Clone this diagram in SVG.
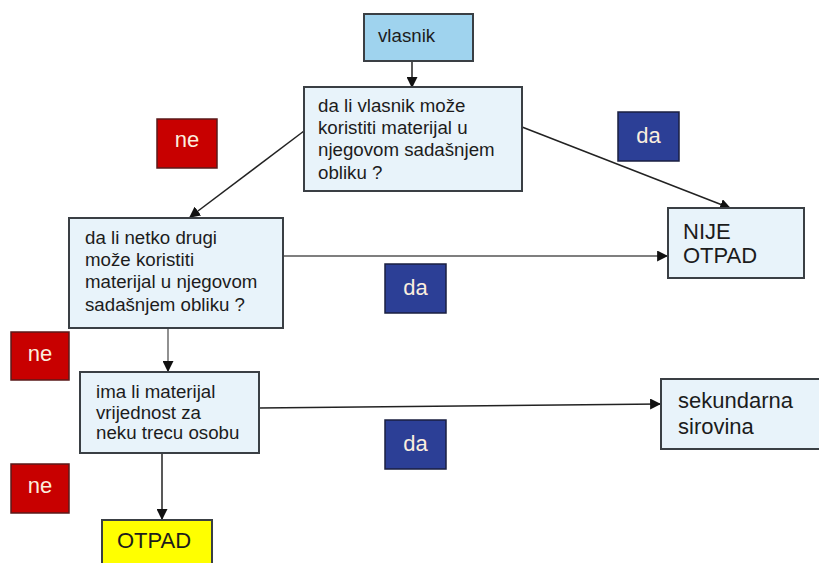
<svg xmlns="http://www.w3.org/2000/svg" width="819" height="563" viewBox="0 0 819 563">
<style>
.box{fill:#e8f3fa;stroke:#3a3f44;stroke-width:2}
.t{font-family:"Liberation Sans",Arial,sans-serif;font-size:18.7px;fill:#1c1c1c}
.big{font-size:22px}
.ne{fill:#c80000;stroke:#5a1a1a;stroke-width:1.5}
.da{fill:#2c3f96;stroke:#1a1f40;stroke-width:1.5}
.lab{font-family:"Liberation Sans",Arial,sans-serif;font-size:22px;fill:#fbeede;text-anchor:middle}
.c{stroke:#222;stroke-width:1.5;fill:none}
.cl{stroke:#555;stroke-width:1.3;fill:none}
</style>
<defs>
<marker id="ah" viewBox="0 0 10 10" refX="9" refY="5" markerWidth="11" markerHeight="11" markerUnits="userSpaceOnUse" orient="auto">
<path d="M0,0 L10,5 L0,10 z" fill="#111"/>
</marker>
</defs>
<rect width="819" height="563" fill="#fff"/>
<g id="connectors">
<line class="c" x1="412" y1="61" x2="412" y2="87" marker-end="url(#ah)"/>
<line class="c" x1="304" y1="131" x2="190" y2="217" marker-end="url(#ah)"/>
<line class="c" x1="522" y1="127" x2="730" y2="208" marker-end="url(#ah)"/>
<line class="cl" x1="283" y1="256" x2="667" y2="256" marker-end="url(#ah)"/>
<line class="cl" x1="168" y1="328" x2="168" y2="371" marker-end="url(#ah)"/>
<line class="c" x1="162" y1="453" x2="162" y2="519" marker-end="url(#ah)"/>
<line class="c" x1="259" y1="408" x2="660" y2="404" marker-end="url(#ah)"/>
</g>
<g id="vlasnik">
<rect x="364" y="14" width="109" height="47" fill="#9fd3ee" stroke="#3a3f44" stroke-width="2"/>
<text class="t" x="378" y="42">vlasnik</text>
</g>
<g id="q1">
<rect class="box" x="304" y="87" width="218" height="104"/>
<text class="t" x="318" y="112">da li vlasnik može</text>
<text class="t" x="318" y="134">koristiti materijal u</text>
<text class="t" x="318" y="156">njegovom sadašnjem</text>
<text class="t" x="318" y="179">obliku ?</text>
</g>
<g id="q2">
<rect class="box" x="69" y="218" width="214" height="110"/>
<text class="t" x="85" y="244">da li netko drugi</text>
<text class="t" x="85" y="266">može koristiti</text>
<text class="t" x="85" y="288">materijal u njegovom</text>
<text class="t" x="85" y="311">sadašnjem obliku ?</text>
</g>
<g id="q3">
<rect class="box" x="80" y="372" width="179" height="81"/>
<text class="t" x="96" y="398">ima li materijal</text>
<text class="t" x="96" y="419">vrijednost za</text>
<text class="t" x="96" y="439">neku trecu osobu</text>
</g>
<g id="nije-otpad">
<rect class="box" x="668" y="208" width="136" height="70"/>
<text class="t big" x="683" y="239">NIJE</text>
<text class="t big" x="683" y="263">OTPAD</text>
</g>
<g id="sekundarna">
<rect class="box" x="661" y="379" width="170" height="70"/>
<text class="t big" x="678" y="408">sekundarna</text>
<text class="t big" x="678" y="434">sirovina</text>
</g>
<g id="otpad">
<rect x="102" y="520" width="110" height="60" fill="#ffff00" stroke="#3a3f44" stroke-width="2"/>
<text class="t big" x="117" y="548">OTPAD</text>
</g>
<g id="ne1"><rect class="ne" x="157" y="119" width="60" height="49"/><text class="lab" x="187" y="147">ne</text></g>
<g id="ne2"><rect class="ne" x="11" y="332" width="58" height="48"/><text class="lab" x="40" y="361">ne</text></g>
<g id="ne3"><rect class="ne" x="11" y="464" width="58" height="49"/><text class="lab" x="40" y="493">ne</text></g>
<g id="da1"><rect class="da" x="618" y="112" width="61" height="49"/><text class="lab" x="648.5" y="143">da</text></g>
<g id="da2"><rect class="da" x="385" y="264" width="61" height="49"/><text class="lab" x="415.5" y="295">da</text></g>
<g id="da3"><rect class="da" x="385" y="420" width="61" height="49"/><text class="lab" x="415.5" y="451">da</text></g>
</svg>
